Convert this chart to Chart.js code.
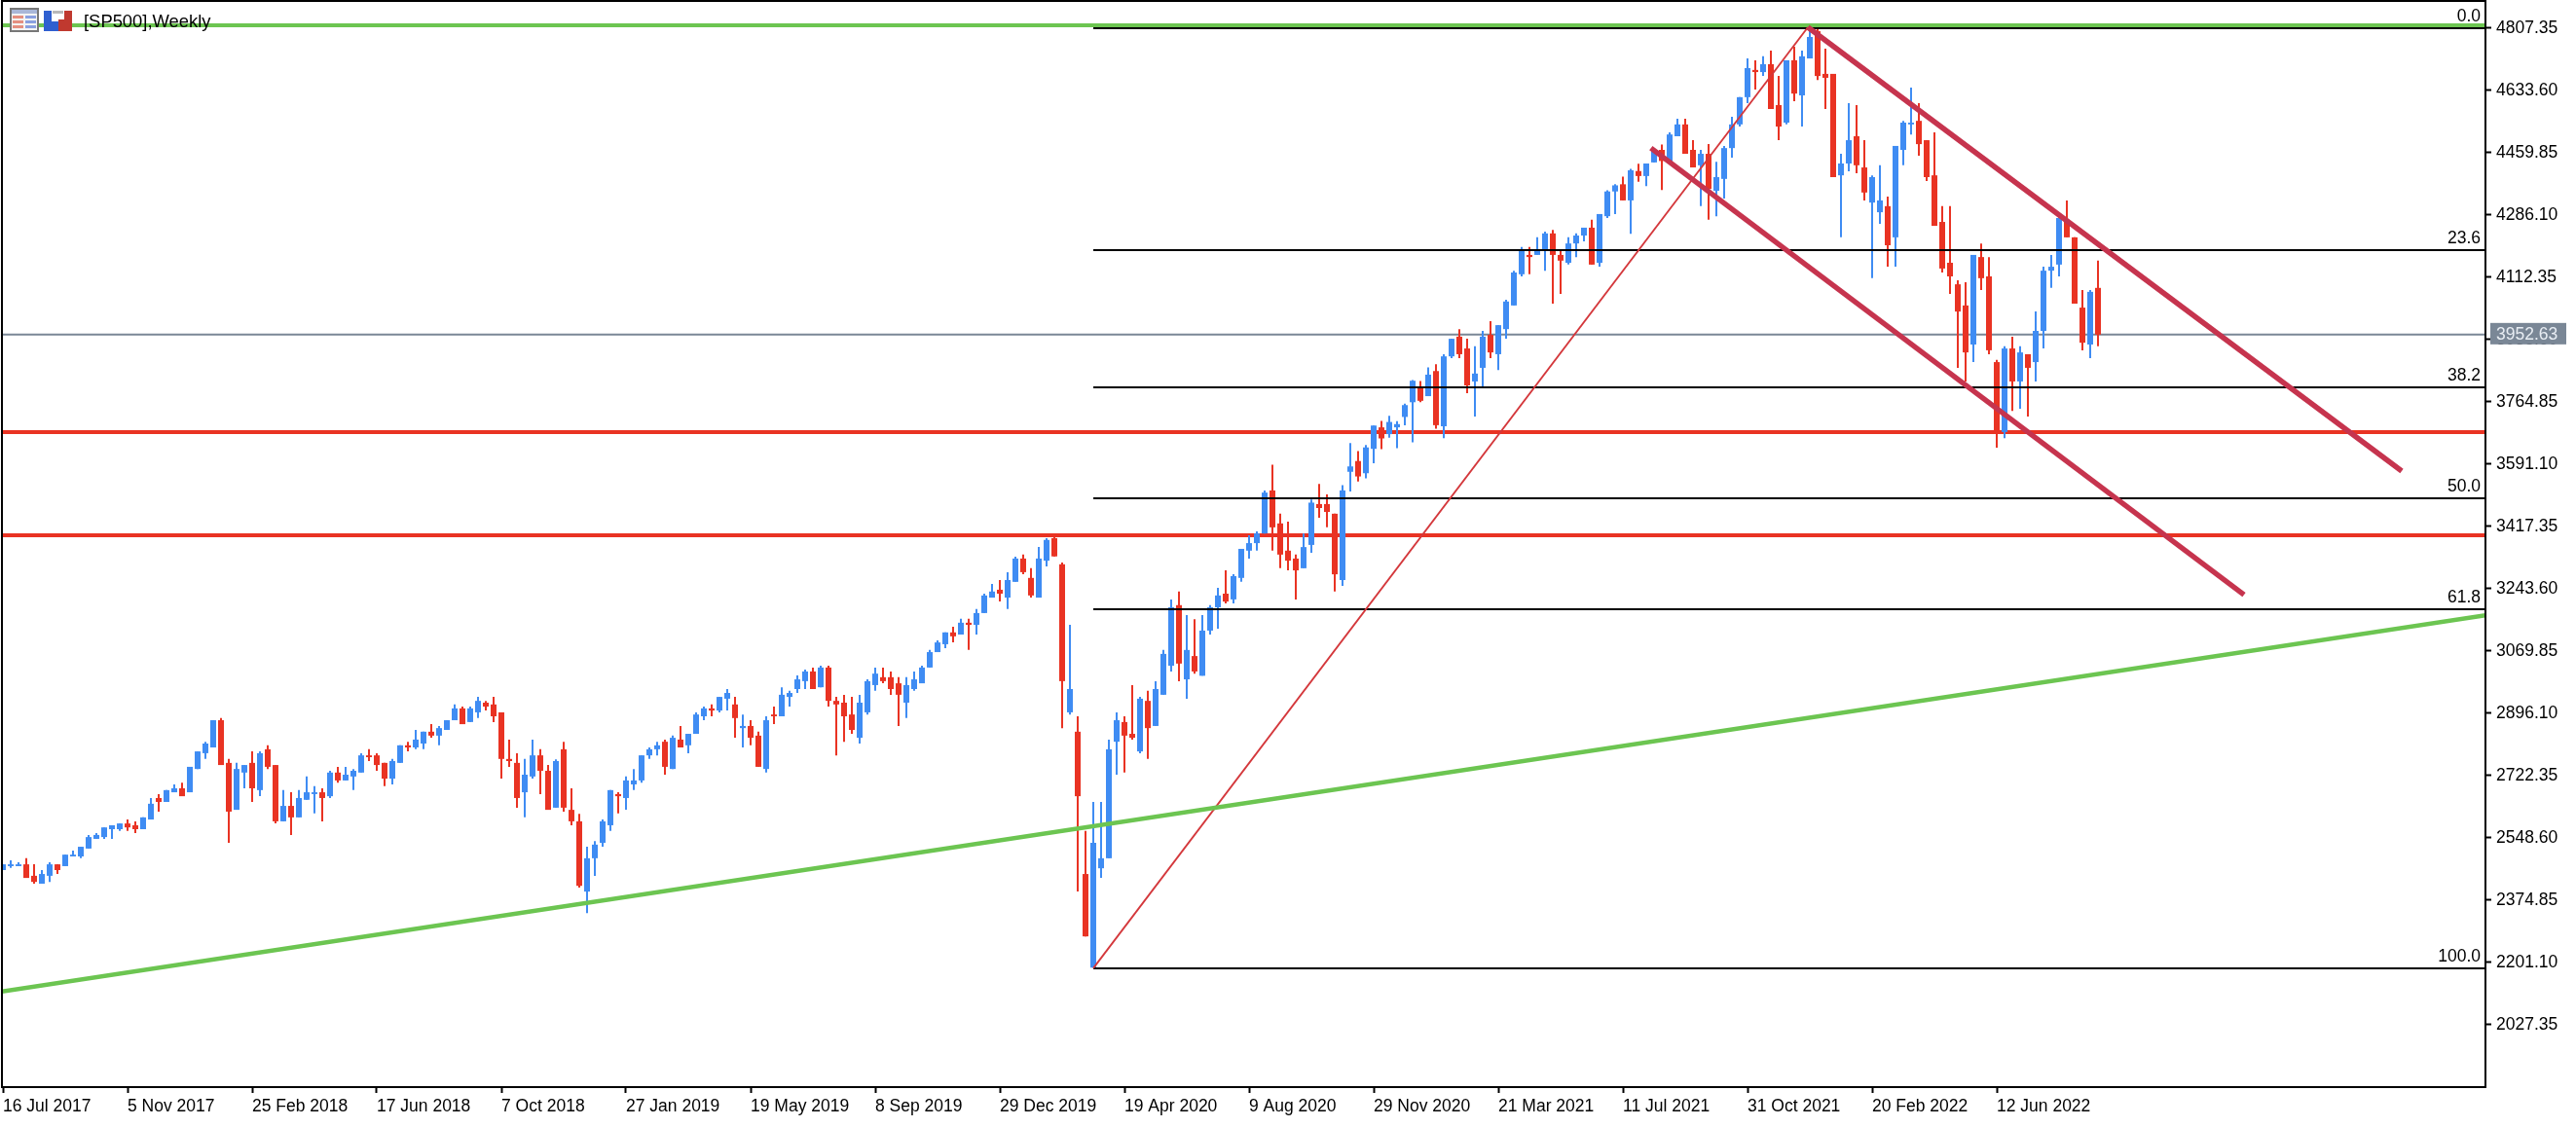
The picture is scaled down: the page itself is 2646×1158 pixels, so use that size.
<!DOCTYPE html>
<html>
<head>
<meta charset="utf-8">
<title>[SP500],Weekly</title>
<script src="https://cdn.jsdelivr.net/npm/chart.js@4/dist/chart.umd.min.js"></script>
<style>
    html, body { margin: 0; padding: 0; background: #fff; }
    canvas { display: block; }
</style>
</head>
<body>
<canvas id="priceChart" width="2646" height="1158"></canvas>
<script>
// weekly candles, one value per week starting 16 Jul 2017
const opens = [
    2459,2470,2470,2475,2443,2421,2443,2475,2470,2497,
    2497,2519,2546,2551,2573,2573,2589,2584,2573,2600,
    2660,2649,2676,2687,2676,2741,2785,2801,2877,2758,
    2627,2731,2758,2682,2796,2752,2595,2638,2606,2655,
    2671,2676,2665,2731,2709,2720,2731,2779,2779,2758,
    2714,2758,2807,2801,2812,2845,2834,2850,2877,2910,
    2872,2899,2926,2921,2899,2769,2758,2676,2720,2779,
    2736,2633,2796,2627,2595,2399,2492,2535,2584,2671,
    2660,2698,2709,2779,2796,2817,2741,2823,2807,2839,
    2888,2910,2904,2937,2921,2855,2861,2834,2741,2893,
    2888,2942,2964,2986,3013,2969,3024,2931,2926,2893,
    2828,2899,2975,2997,2997,2980,2926,2964,2980,3024,
    3067,3089,3122,3116,3149,3143,3176,3219,3241,3219,
    3263,3328,3274,3219,3322,3385,3312,2899,2845,2448,
    2187,2464,2492,2817,2872,2839,2790,2931,2861,2948,
    3029,3198,2991,3056,3001,3127,3192,3230,3214,3274,
    3350,3371,3398,3518,3426,3350,3328,3301,3366,3480,
    3480,3453,3268,3570,3600,3566,3634,3694,3675,3694,
    3723,3764,3803,3781,3851,3697,3892,3947,3914,3822,
    3860,3952,3898,3968,4034,4121,4175,4175,4186,4235,
    4175,4153,4207,4229,4251,4153,4283,4352,4372,4327,
    4409,4395,4433,4468,4435,4506,4539,4468,4425,4457,
    4354,4387,4473,4539,4615,4691,4685,4707,4593,4544,
    4718,4620,4723,4799,4680,4680,4397,4430,4506,4419,
    4321,4294,4311,4224,4468,4539,4549,4495,4397,4267,
    4153,4093,4034,3925,4169,4115,3876,3681,3914,3822,
    3898,3876,3963,4131,4148,4273,4224,4028,3925,4083
];
const highs = [
    2475,2486,2481,2492,2475,2459,2481,2475,2502,2513,
    2524,2557,2562,2578,2584,2589,2600,2595,2606,2660,
    2671,2682,2698,2703,2747,2790,2817,2877,2883,2769,
    2758,2752,2790,2790,2807,2752,2682,2676,2682,2720,
    2693,2687,2736,2747,2747,2741,2785,2796,2785,2758,
    2769,2807,2817,2850,2845,2866,2861,2877,2921,2915,
    2915,2942,2931,2942,2899,2823,2785,2769,2823,2796,
    2752,2768,2817,2687,2616,2524,2540,2600,2682,2676,
    2720,2741,2779,2801,2817,2823,2834,2861,2839,2899,
    2915,2921,2942,2964,2942,2893,2877,2845,2888,2915,
    2969,2959,3002,3018,3024,3029,3029,2942,2948,2942,
    2948,2991,3024,3024,3013,2997,2997,3013,3029,3073,
    3100,3122,3138,3160,3160,3187,3230,3257,3268,3290,
    3333,3339,3301,3360,3385,3393,3317,3143,2888,2568,
    2649,2649,2823,2899,2888,2975,2942,2959,2986,3073,
    3214,3236,3170,3159,3170,3198,3246,3295,3284,3355,
    3393,3404,3518,3590,3453,3431,3339,3398,3493,3536,
    3507,3453,3533,3650,3628,3645,3699,3712,3726,3711,
    3760,3826,3823,3861,3870,3898,3941,3968,3941,3920,
    3963,3990,3979,4050,4131,4197,4197,4224,4240,4245,
    4186,4224,4235,4251,4273,4289,4355,4372,4393,4415,
    4429,4429,4470,4483,4517,4555,4555,4495,4468,4484,
    4435,4479,4560,4615,4723,4718,4729,4745,4674,4718,
    4756,4745,4805,4821,4750,4680,4457,4598,4593,4495,
    4397,4425,4338,4479,4549,4642,4598,4495,4517,4311,
    4311,4104,4099,4175,4207,4169,3882,3920,3947,3920,
    3898,4017,4142,4175,4283,4327,4224,4077,4077,4159
];
const lows = [
    2459,2465,2470,2437,2421,2421,2426,2448,2470,2497,
    2492,2519,2546,2546,2546,2568,2568,2562,2573,2600,
    2622,2649,2676,2665,2676,2741,2769,2801,2752,2535,
    2627,2687,2649,2665,2741,2589,2595,2557,2606,2655,
    2617,2595,2660,2703,2709,2682,2731,2763,2736,2693,
    2698,2758,2790,2796,2796,2828,2807,2850,2877,2866,
    2872,2883,2904,2872,2714,2747,2633,2606,2714,2671,
    2627,2633,2622,2584,2410,2339,2443,2524,2568,2617,
    2627,2682,2703,2769,2779,2725,2741,2801,2785,2839,
    2877,2888,2899,2904,2828,2801,2807,2747,2731,2866,
    2888,2915,2953,2964,2964,2969,2915,2779,2817,2839,
    2812,2893,2959,2980,2948,2861,2883,2959,2980,3024,
    3067,3078,3094,3116,3073,3116,3176,3219,3208,3187,
    3263,3284,3219,3219,3306,3334,2855,2893,2399,2274,
    2187,2437,2492,2725,2731,2823,2785,2769,2861,2948,
    3013,2986,2937,3007,3001,3116,3132,3203,3203,3263,
    3328,3350,3398,3350,3301,3295,3214,3301,3344,3442,
    3415,3236,3252,3515,3543,3552,3594,3633,3665,3636,
    3700,3652,3764,3781,3690,3664,3887,3887,3789,3724,
    3806,3887,3854,3941,4034,4115,4121,4175,4131,4039,
    4066,4148,4169,4213,4148,4142,4278,4289,4327,4234,
    4379,4367,4433,4356,4435,4506,4457,4419,4311,4273,
    4283,4332,4446,4533,4598,4636,4674,4582,4495,4539,
    4604,4533,4723,4663,4582,4392,4224,4408,4403,4327,
    4110,4262,4142,4142,4425,4511,4452,4381,4256,4126,
    4066,3860,3822,3876,4077,3898,3637,3664,3740,3746,
    3724,3822,3914,4083,4115,4224,4039,3909,3887,3920
];
const closes = [
    2475,2475,2475,2437,2426,2448,2475,2459,2502,2502,
    2524,2551,2557,2578,2584,2589,2578,2573,2606,2644,
    2649,2682,2687,2665,2747,2790,2812,2877,2752,2622,
    2741,2752,2687,2785,2747,2595,2638,2606,2660,2676,
    2676,2660,2731,2709,2725,2736,2779,2774,2752,2714,
    2763,2807,2801,2823,2845,2834,2855,2877,2910,2866,
    2910,2931,2915,2888,2769,2763,2660,2725,2779,2736,
    2627,2763,2633,2595,2415,2492,2530,2595,2682,2665,
    2709,2709,2779,2796,2807,2747,2828,2801,2839,2893,
    2910,2904,2942,2953,2883,2861,2828,2747,2877,2888,
    2948,2953,2991,3013,2964,3024,2931,2921,2888,2850,
    2926,2986,3007,2986,2964,2948,2975,2991,3024,3067,
    3094,3122,3111,3149,3143,3176,3225,3236,3230,3268,
    3328,3290,3225,3328,3380,3334,2986,2964,2665,2274,
    2535,2492,2796,2877,2834,2828,2937,2855,2964,3062,
    3192,3035,3073,3013,3127,3192,3225,3208,3279,3355,
    3371,3398,3512,3415,3339,3322,3295,3360,3484,3469,
    3458,3284,3518,3585,3557,3638,3699,3663,3709,3703,
    3756,3824,3768,3841,3700,3892,3941,3898,3811,3844,
    3947,3903,3979,4045,4126,4191,4169,4186,4235,4175,
    4159,4207,4229,4251,4148,4289,4352,4369,4327,4411,
    4395,4430,4468,4437,4511,4539,4457,4419,4457,4359,
    4392,4473,4539,4615,4696,4685,4707,4582,4533,4718,
    4625,4729,4783,4674,4669,4392,4430,4495,4425,4349,
    4392,4327,4202,4479,4544,4544,4484,4392,4256,4137,
    4115,4017,3903,4175,4110,3909,3681,3914,3822,3903,
    3860,3963,4131,4142,4278,4224,4039,3930,4072,3952.63
];

const dateLabels = ['16 Jul 2017', '5 Nov 2017', '25 Feb 2018', '17 Jun 2018', '7 Oct 2018', '27 Jan 2019',
    '19 May 2019', '8 Sep 2019', '29 Dec 2019', '19 Apr 2020', '9 Aug 2020', '29 Nov 2020', '21 Mar 2021',
    '11 Jul 2021', '31 Oct 2021', '20 Feb 2022', '12 Jun 2022'];
const weeksPerLabel = 16;
const priceTicks = [2027.35, 2201.10, 2374.85, 2548.60, 2722.35, 2896.10, 3069.85, 3243.60, 3417.35, 3591.10,
    3764.85, 3938.60, 4112.35, 4286.10, 4459.85, 4633.60, 4807.35];

// fibonacci retracement, drawn from the march 2020 low week onwards
const fibLevels = [0, 23.6, 38.2, 50, 61.8, 100];
const fibHigh = 4807.35;
const fibLow = 2185;
const fibStartWeek = 140;

// drawn objects: [week, price] pairs
const supportLevels = [3680.7, 3392.9];
const topLevel = 4815.5;
const longTrend = [[-0.125, 2120], [318.75, 3170]];
const fibTrend = [[140, 2185], [231.75, 4810]];
const channelUpper = [[231.75, 4810], [308, 3572]];
const channelLower = [[211.6, 4473], [287.75, 3227]];

const lastPrice = closes[closes.length - 1];
const xMin = -0.125;
const xMax = 318.75;

const UP = '#3f8cf3';
const DOWN = '#e93323';
const GREEN = '#6cc551';
const CRIMSON = '#c6344e';
const GREY = '#7a8796';
const FONT = '17.5px "Liberation Sans", Arial, sans-serif';

function toPoints(pairs) {
    return pairs.map(function(p) { return { x: p[0], y: p[1] }; });
}

function lineSet(pairs, color, width, order) {
    return {
        type: 'line',
        data: toPoints(pairs),
        borderColor: color,
        borderWidth: width,
        pointRadius: 0,
        tension: 0,
        order: order
    };
}

function flatLine(price, color, width, order, startWeek) {
    return lineSet([[startWeek === undefined ? xMin : startWeek, price], [xMax, price]], color, width, order);
}

const candleColors = closes.map(function(c, i) { return c >= opens[i] ? UP : DOWN; });

const datasets = [
    {
        label: 'body',
        data: opens.map(function(o, i) { return { x: i, y: [o, closes[i]] }; }),
        backgroundColor: candleColors,
        barThickness: 6,
        grouped: false,
        order: 3
    },
    {
        label: 'wick',
        data: lows.map(function(l, i) { return { x: i, y: [l, highs[i]] }; }),
        backgroundColor: candleColors,
        barThickness: 2,
        grouped: false,
        order: 4
    },
    flatLine(lastPrice, GREY, 2, 6),
    flatLine(supportLevels[0], DOWN, 4, 5),
    flatLine(supportLevels[1], DOWN, 4, 5),
    flatLine(topLevel, GREEN, 4, 2),
    lineSet(longTrend, GREEN, 4.5, 1),
    lineSet(fibTrend, '#d4383c', 1.9, 1),
    lineSet(channelUpper, CRIMSON, 5.5, 0),
    lineSet(channelLower, CRIMSON, 5.5, 0)
];

fibLevels.forEach(function(level) {
    const price = fibHigh - (fibHigh - fibLow) * level / 100;
    datasets.push(flatLine(price, '#000', 2, 1, fibStartWeek));
});

// frame, level captions, last price tag and the small header icons
const overlay = {
    id: 'overlay',
    afterDraw: function(chart) {
        const ctx = chart.ctx;
        const area = chart.chartArea;
        const yScale = chart.scales.y;

        ctx.save();
        ctx.strokeStyle = '#000';
        ctx.lineWidth = 2;
        ctx.strokeRect(area.left, area.top, area.right - area.left, area.bottom - area.top);

        ctx.font = FONT;
        ctx.fillStyle = '#000';
        ctx.textAlign = 'right';
        ctx.textBaseline = 'alphabetic';
        fibLevels.forEach(function(level) {
            const price = fibHigh - (fibHigh - fibLow) * level / 100;
            ctx.fillText(level.toFixed(1), area.right - 5, yScale.getPixelForValue(price) - 7);
        });

        const tagY = yScale.getPixelForValue(lastPrice);
        ctx.fillStyle = GREY;
        ctx.fillRect(area.right + 5, tagY - 12, 78, 22);
        ctx.fillStyle = '#e8edf3';
        ctx.textAlign = 'left';
        ctx.textBaseline = 'middle';
        ctx.fillText(lastPrice.toFixed(2), area.right + 11, tagY);

        drawIcons(ctx);
        ctx.fillStyle = '#000';
        ctx.font = '18.4px "Liberation Sans", Arial, sans-serif';
        ctx.textBaseline = 'alphabetic';
        ctx.fillText('[SP500],Weekly', 86, 28);
        ctx.restore();
    }
};

function drawIcons(ctx) {
    ctx.fillStyle = '#f4f4f4';
    ctx.fillRect(10, 8, 30, 25);
    ctx.fillStyle = '#a9b7d8';
    ctx.fillRect(11, 9, 28, 5);
    [16, 21, 26].forEach(function(y) {
        ctx.fillStyle = '#e58f80';
        ctx.fillRect(13, y, 11, 3);
        ctx.fillStyle = '#8aa0e0';
        ctx.fillRect(26, y, 11, 3);
    });
    ctx.strokeStyle = '#777';
    ctx.lineWidth = 2;
    ctx.strokeRect(11, 9, 28, 23);

    ctx.fillStyle = '#2f5fd0';
    ctx.fillRect(45, 11, 8, 21);
    ctx.fillRect(45, 22, 15, 10);
    ctx.fillStyle = '#c0392f';
    ctx.fillRect(66, 11, 8, 21);
    ctx.fillRect(60, 20, 14, 12);
    ctx.fillStyle = '#b9b9b9';
    ctx.fillRect(54, 11, 11, 3);
}

new Chart(document.getElementById('priceChart').getContext('2d'), {
    type: 'bar',
    data: { datasets: datasets },
    options: {
        responsive: false,
        animation: false,
        events: [],
        layout: { padding: { left: 2, top: 1, right: 0, bottom: 0 } },
        plugins: {
            legend: { display: false },
            title: { display: false },
            tooltip: { enabled: false }
        },
        elements: {
            bar: { borderWidth: 0, inflateAmount: 0 }
        },
        scales: {
            x: {
                type: 'linear',
                offset: false,
                min: xMin,
                max: xMax,
                // the label padding would otherwise push the plot area inwards
                afterFit: function(scale) {
                    scale.height = 41;
                    scale.paddingLeft = 0;
                    scale.paddingRight = 0;
                },
                afterBuildTicks: function(scale) {
                    scale.ticks = dateLabels.map(function(d, i) { return { value: i * weeksPerLabel }; });
                },
                border: { display: false },
                grid: { offset: false, drawOnChartArea: false, drawTicks: true, tickLength: 6, tickWidth: 2, tickColor: '#000' },
                ticks: {
                    autoSkip: false,
                    maxRotation: 0,
                    minRotation: 0,
                    align: 'start',
                    padding: 4,
                    color: '#000',
                    font: { family: '"Liberation Sans", Arial, sans-serif', size: 17.5 },
                    callback: function(value) { return dateLabels[value / weeksPerLabel]; }
                }
            },
            y: {
                position: 'right',
                min: 1853.6,
                max: 4883.36,
                afterFit: function(scale) {
                    scale.width = 93;
                    scale.paddingTop = 0;
                    scale.paddingBottom = 0;
                },
                afterBuildTicks: function(scale) {
                    scale.ticks = priceTicks.map(function(v) { return { value: v }; });
                },
                border: { display: false },
                grid: { drawOnChartArea: false, drawTicks: true, tickLength: 6, tickWidth: 2, tickColor: '#000' },
                ticks: {
                    padding: 5,
                    color: '#000',
                    font: { family: '"Liberation Sans", Arial, sans-serif', size: 17.5 },
                    callback: function(value) { return value.toFixed(2); }
                }
            }
        }
    },
    plugins: [overlay]
});
</script>
</body>
</html>
